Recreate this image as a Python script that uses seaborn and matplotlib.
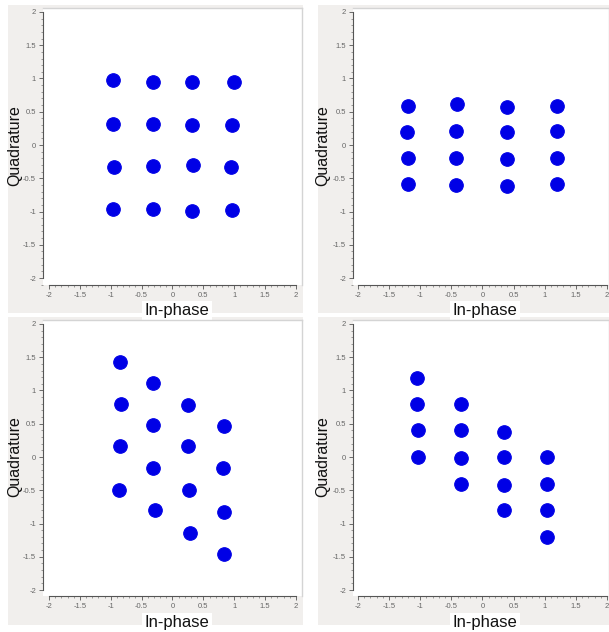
import matplotlib
matplotlib.use("Agg")
import matplotlib.pyplot as plt
from matplotlib.patches import Rectangle
from matplotlib.ticker import MultipleLocator, FixedLocator
import seaborn as sns
import pandas as pd

# ---------------- data (cluster centres) ----------------
tl_i = [-0.96, -0.32, 0.31, 0.99,  -0.96, -0.32, 0.31, 0.96,  -0.95, -0.32, 0.33, 0.94,  -0.97, -0.32, 0.31, 0.97]
tl_q = [0.97, 0.95, 0.95, 0.94,   0.32, 0.32, 0.30, 0.30,   -0.33, -0.31, -0.30, -0.33,  -0.96, -0.96, -0.99, -0.98]

tr_i = [-1.20, -1.22, -1.20, -1.20,  -0.41, -0.42, -0.42, -0.42,  0.39, 0.39, 0.39, 0.39,  1.20, 1.20, 1.20, 1.20]
tr_q = [0.59, 0.19, -0.20, -0.59,   0.61, 0.21, -0.20, -0.60,   0.57, 0.19, -0.21, -0.61,  0.59, 0.21, -0.20, -0.59]

bl_i = [-0.85, -0.31, -0.83, 0.25, -0.31, 0.83, -0.85, 0.25, -0.31, 0.81, -0.86, 0.26, -0.29, 0.83, 0.29, 0.84]
bl_q = [1.43, 1.11, 0.79, 0.78, 0.48, 0.46, 0.16, 0.17, -0.17, -0.17, -0.50, -0.50, -0.80, -0.83, -1.14, -1.46]

br_i = [-1.06, -1.06, -1.04, -1.04,  -0.34, -0.34, -0.34, -0.34,  0.35, 0.35, 0.35, 0.35,  1.04, 1.04, 1.04, 1.04]
br_q = [1.19, 0.79, 0.40, 0.00,     0.80, 0.40, -0.015, -0.41,  0.38, 0.00, -0.42, -0.79,  0.00, -0.41, -0.80, -1.21]

tick_values = [-2, -1.5, -1, -0.5, 0, 0.5, 1, 1.5, 2]
tick_labels = ["-2", "-1.5", "-1", "-0.5", "0", "0.5", "1", "1.5", "2"]
x_title = "In-phase"
y_title = "Quadrature"

# ---------------- figure ----------------
sns.set_theme(style="white")
plt.rcParams['font.family'] = ['Liberation Sans', 'DejaVu Sans']

W, H = 609, 632
fig = plt.figure(figsize=(W / 100, H / 100), dpi=100)
fig.patch.set_facecolor("white")


def frect(x0, y0, x1, y1):
    return [x0 / W, 1 - y1 / H, (x1 - x0) / W, (y1 - y0) / H]


panels = [
    # grey panel, axes box, xlim, ylim, data
    ((8, 5, 303, 313), (43, 8, 302, 285), (-2.097, 2.097), (-2.105, 2.06), tl_i, tl_q),
    ((318, 5, 609, 313), (353, 8, 609, 285), (-2.080, 2.032), (-2.105, 2.06), tr_i, tr_q),
    ((8, 317, 303, 625), (43, 320, 302, 596), (-2.097, 2.097), (-2.09, 2.06), bl_i, bl_q),
    ((318, 317, 609, 625), (353, 320, 609, 596), (-2.080, 2.032), (-2.09, 2.06), br_i, br_q),
]

for grey, box, xl, yl, xi, yq in panels:
    gx0, gy0, gx1, gy1 = grey
    r = frect(gx0, gy0, gx1, gy1)
    fig.patches.append(Rectangle((r[0], r[1]), r[2], r[3], transform=fig.transFigure,
                                 facecolor="#f1efed", edgecolor="none", zorder=-10))
    ax = fig.add_axes(frect(*box))
    ax.set_zorder(1)
    ax.set_facecolor("white")
    df = pd.DataFrame({"I": xi, "Q": yq})
    sns.scatterplot(data=df, x="I", y="Q", ax=ax, color="#0000e6", s=95,
                    edgecolor="#0000e6", linewidth=0.8, marker="o", zorder=3)
    ax.set_xlim(*xl)
    ax.set_ylim(*yl)

    for side in ("top", "right"):
        ax.spines[side].set_color("#d4d4d4")
        ax.spines[side].set_linewidth(1.0)
    for side in ("bottom", "left"):
        ax.spines[side].set_color("#555555")
        ax.spines[side].set_linewidth(0.8)
        ax.spines[side].set_bounds(-2, 2)

    ax.xaxis.set_major_locator(FixedLocator(tick_values))
    ax.yaxis.set_major_locator(FixedLocator(tick_values))
    ax.set_xticklabels(tick_labels)
    ax.set_yticklabels(tick_labels)
    ax.xaxis.set_minor_locator(MultipleLocator(0.1))
    ax.yaxis.set_minor_locator(MultipleLocator(0.1))
    ax.tick_params(which="major", direction="out", length=3, width=0.6, color="#555555",
                   labelsize=5.5, labelcolor="#666666", pad=2,
                   bottom=True, left=True, top=False, right=False)
    ax.tick_params(which="minor", direction="out", length=1.6, width=0.5, color="#777777",
                   bottom=True, left=True, top=False, right=False)

    ax.set_xlabel(x_title, fontsize=12, color="#111111",
                  bbox=dict(facecolor="white", edgecolor="none", pad=2.0))
    ax.set_ylabel(y_title, fontsize=11.5, color="#111111")
    ax_w = box[2] - box[0]
    ax_h = box[3] - box[1]
    xl_cx = (177 if box[0] < 300 else 485) - box[0]
    xl_cy = (311 if box[1] < 300 else 623)
    ax.xaxis.set_label_coords(xl_cx / ax_w, -(xl_cy - box[3]) / ax_h)
    ax.xaxis.label.set_verticalalignment("center")
    yl_cx = (15 if box[0] < 300 else 323) - box[0]
    ax.yaxis.set_label_coords(yl_cx / ax_w, 0.505)
    ax.yaxis.label.set_verticalalignment("center")

fig.savefig("out.png", dpi=100, facecolor="white")
